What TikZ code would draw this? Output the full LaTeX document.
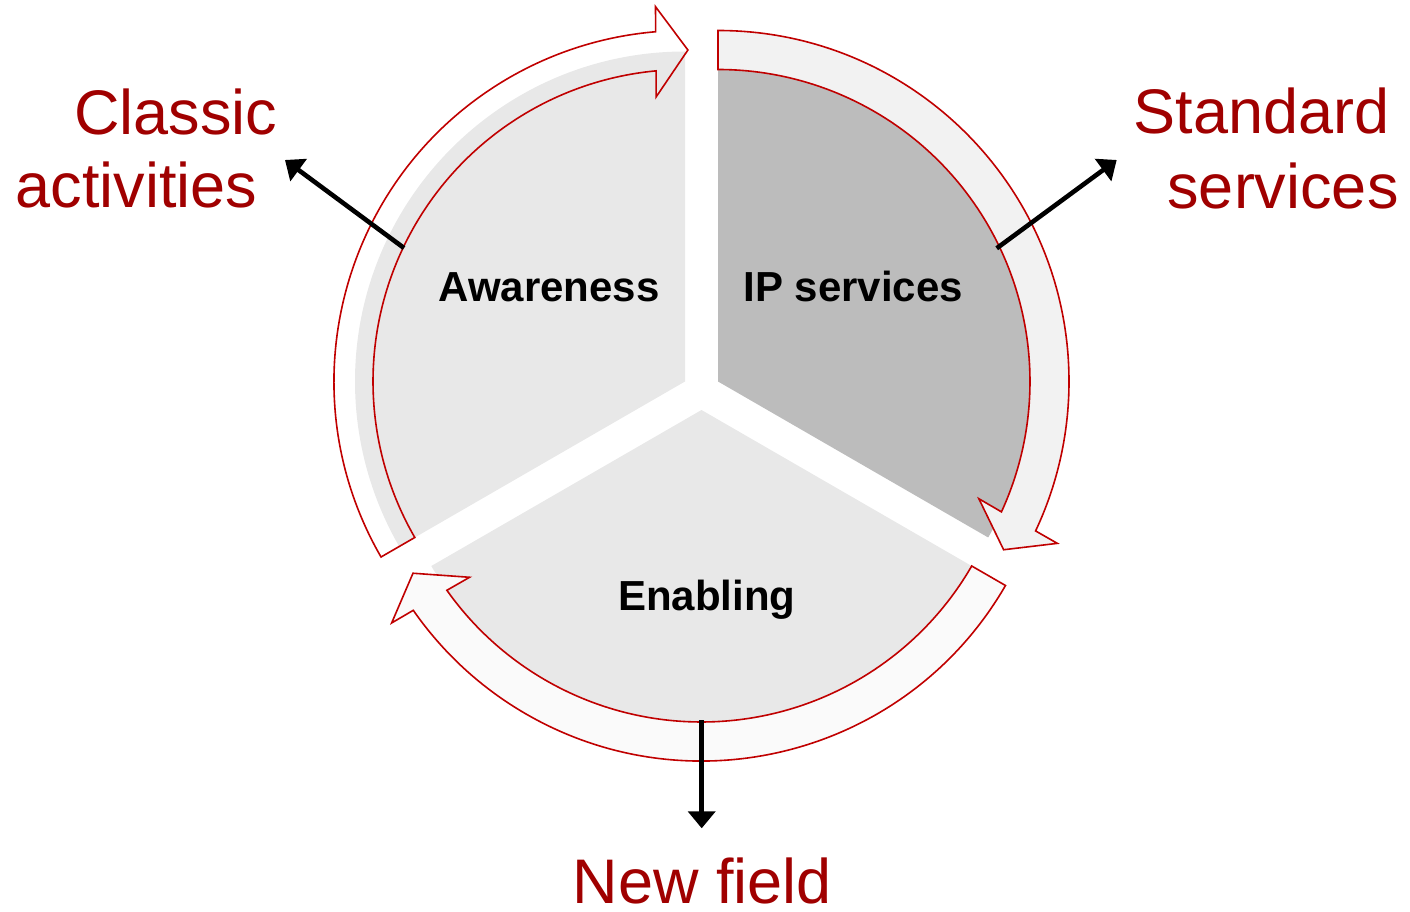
\documentclass[tikz,border=0pt]{standalone}
\usepackage{fontspec}
\setmainfont{Liberation Sans}
\usetikzlibrary{arrows.meta}
\definecolor{ringred}{HTML}{C00000}
\definecolor{txtred}{HTML}{A00000}
\definecolor{lightsec}{HTML}{E8E8E8}
\definecolor{darksec}{HTML}{BCBCBC}
\definecolor{ringgray}{HTML}{F2F2F2}
\definecolor{ringwhite}{HTML}{FAFAFA}
\newcommand\myringarrow[4]{%
  \draw[ring, fill=#4] ([shift={(#2:351)}]#1) arc[start angle=#2, end angle=#3+4.8, radius=351]
    -- ([shift={(#3+4.5:376)}]#1) -- ([shift={(#3-0.5:331.5)}]#1) -- ([shift={(#3+5.8:286)}]#1)
    -- ([shift={(#3+5.3:312)}]#1) arc[start angle=#3+5.3, end angle=#2, radius=312] -- cycle;}
\begin{document}
\begin{tikzpicture}[x=1pt,y=1pt,
  ring/.style={draw=ringred, line width=1.6pt, line join=miter},
  lab/.style={text=txtred, font=\fontsize{63}{70}\selectfont, anchor=base, inner sep=0pt},
  seclab/.style={font=\bfseries\fontsize{42}{48}\selectfont, anchor=base, inner sep=0pt},
  pointer/.style={line width=4.6pt, -{Triangle[width=27pt,length=17pt]}}]
\useasboundingbox (0,0) rectangle (1410,911);
\coordinate (A) at (685,529.5);
\coordinate (B) at (718,529.5);
\coordinate (C) at (701.5,501);
% sectors
\fill[lightsec] (A) -- ([shift={(90:330)}]A) arc[start angle=90, end angle=210, radius=330] -- cycle;
\fill[darksec] (B) -- ([shift={(90:312)}]B) arc[start angle=90, end angle=-30, radius=312] -- cycle;
\fill[lightsec] (C) -- ([shift={(210:312)}]C) arc[start angle=210, end angle=330, radius=312] -- cycle;
% ring arrows
\myringarrow{A}{210}{90}{none}
\myringarrow{B}{90}{-30}{ringgray}
\myringarrow{C}{330}{210}{ringwhite}
% sector labels
\node[seclab] (aw) at (549.2,609.3) {Awareness};
\node[seclab] (ip) at (853.3,609.3) {IP services};
\node[seclab] (en) at (706.7,301) {Enabling};
% outer labels
\node[lab] (classic) at (176,776) {Classic};
\node[lab] (activities) at (136.5,703) {activities};
\node[lab] (standard) at (1261.5,777.7) {Standard};
\node[lab] (services) at (1283,702.7) {services};
\node[lab] (newfield) at (702.5,8) {New field};
% pointers
\coordinate (p1s) at (404,663);
\coordinate (p1e) at (285,751);
\coordinate (p2s) at (996.7,662.7);
\coordinate (p2e) at (1116.7,751);
\coordinate (p3s) at (701.7,191);
\coordinate (p3e) at (701.7,82.7);
\draw[pointer] (p1s) -- (p1e);
\draw[pointer] (p2s) -- (p2e);
\draw[pointer] (p3s) -- (p3e);
\end{tikzpicture}
\end{document}
